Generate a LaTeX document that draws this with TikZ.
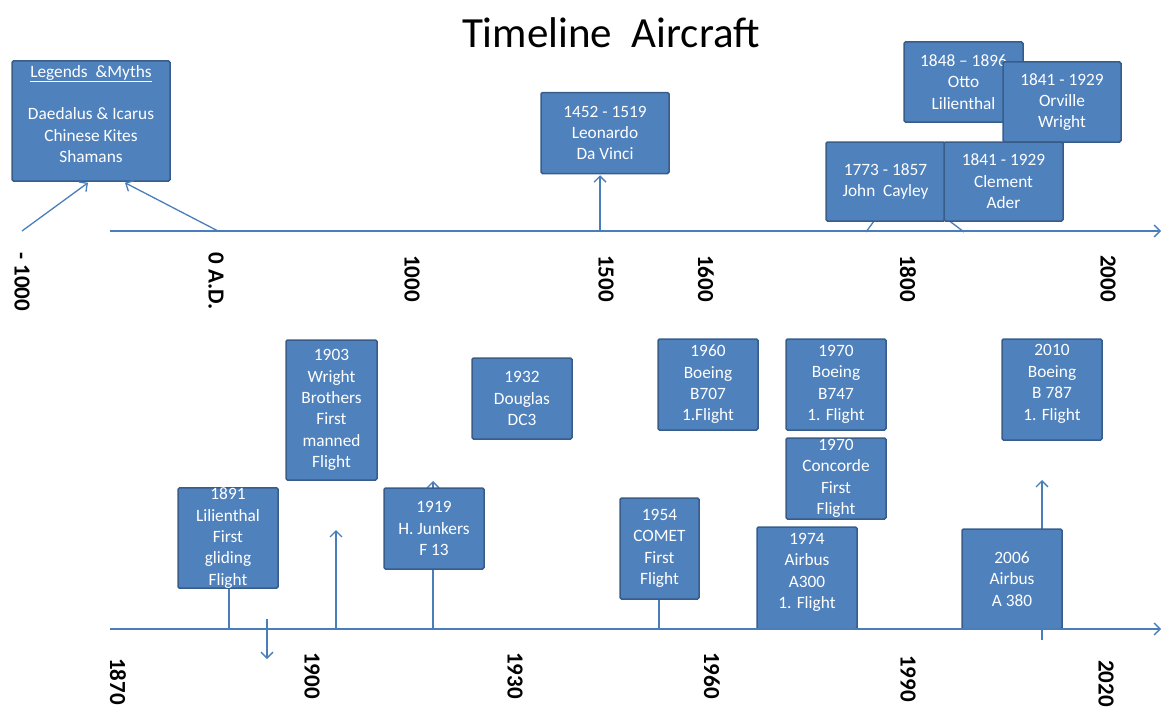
\documentclass[tikz,border=0pt]{standalone}
\usepackage{fontspec}
\setmainfont{Carlito}
\usetikzlibrary{arrows.meta,backgrounds}
\definecolor{boxfill}{HTML}{4F81BD}
\definecolor{boxline}{HTML}{385D8A}
\definecolor{connc}{HTML}{4A7EBB}
\begin{document}
\begin{tikzpicture}[x=1pt,y=-1pt,
  >={Straight Barb[length=6pt,width=12pt]},
  evbox/.style={draw=boxline, line width=1.5pt, fill=boxfill, text=white,
    rounded corners=1.5pt, align=center, inner sep=0pt,
    font=\fontsize{17.3}{21.4}\selectfont},
  connector/.style={draw=connc, line width=1.3pt},
  yearlbl/.style={font=\fontsize{23}{23}\selectfont\bfseries, rotate=-90,
    anchor=west, inner sep=0pt, text=black},
  titlestyle/.style={font=\fontsize{43}{43}\selectfont, inner sep=0pt, text=black}]
\useasboundingbox (0,0) rectangle (1161,709);

\node[titlestyle] (title) at (611,33) {Timeline\ \ Aircraft};

% ---------- top timeline ----------
\node[evbox, minimum width=158, minimum height=120] (legends) at (91,121)
  {\underline{Legends\ \ \&Myths}\\ \strut\\Daedalus \& Icarus\\Chinese Kites\\Shamans\\[-13.5pt] \strut};
\node[evbox, minimum width=128, minimum height=81] (leonardo) at (605,133)
  {1452 - 1519\\Leonardo\\Da Vinci};
\node[evbox, minimum width=119, minimum height=80] (otto) at (963.5,82)
  {1848 – 1896\\Otto\\Lilienthal};
\node[evbox, minimum width=118, minimum height=80] (orville) at (1062,102)
  {1841 - 1929\\Orville\\Wright};
\node[evbox, minimum width=119, minimum height=79] (cayley) at (885.5,181.5)
  {1773 - 1857\\John\ \ Cayley};
\node[evbox, minimum width=119, minimum height=79] (ader) at (1003.5,181.5)
  {1841 - 1929\\Clement\\Ader};

\coordinate (tstart) at (110,231);
\coordinate (tend) at (1161,231);
\coordinate (tm1000) at (22,231);
\coordinate (tad0) at (218,231);
\coordinate (t1500) at (600,231);
\coordinate (t1780) at (866,232);
\coordinate (t1820) at (964,232);

\draw[connector,->] (tstart) -- (tend);
\draw[connector,->] (tm1000) -- ([xshift=-3pt,yshift=-1pt]legends.south);
\draw[connector,->] (tad0) -- ([xshift=34pt,yshift=-1pt]legends.south);
\draw[connector,->] (t1500) -- ([xshift=-5pt,yshift=-1pt]leonardo.south);
\begin{scope}[on background layer]
  \draw[connector] (t1780) -- ([xshift=-12pt]cayley.south);
  \draw[connector] (t1820) -- ([xshift=-53pt]ader.south);
\end{scope}

\node[yearlbl] (ym1000) at (22,252) {- 1000};
\node[yearlbl] (yad0) at (216,252) {0 A.D.};
\node[yearlbl] (y1000) at (412,255) {1000};
\node[yearlbl] (y1500) at (606,255) {1500};
\node[yearlbl] (y1600) at (706,255) {1600};
\node[yearlbl] (y1800) at (908,255) {1800};
\node[yearlbl] (y2000) at (1108,255) {2000};

% ---------- bottom timeline ----------
\node[evbox, minimum width=100, minimum height=100] (lil) at (228,538)
  {1891\\Lilienthal\\First\\gliding\\Flight};
\node[evbox, minimum width=91, minimum height=140] (wright) at (331.5,410)
  {1903\\Wright\\Brothers\\First\\manned\\Flight};
\node[evbox, minimum width=100, minimum height=81] (junkers) at (434,528.5)
  {1919\\H. Junkers\\F 13};
\node[evbox, minimum width=100, minimum height=81] (douglas) at (522,398.5)
  {1932\\Douglas\\DC3};
\node[evbox, minimum width=79, minimum height=101] (comet) at (659.5,548.5)
  {1954\\COMET\\First\\Flight};
\node[evbox, minimum width=100, minimum height=91] (b707) at (708,384.5)
  {1960\\Boeing\\B707\\1.Flight};
\node[evbox, minimum width=100, minimum height=91] (b747) at (836,384.5)
  {1970\\Boeing\\B747\\1. Flight};
\node[evbox, minimum width=100, minimum height=81] (concorde) at (836,478.5)
  {1970\\Concorde\\First\\Flight};
\node[evbox, minimum width=100, minimum height=102] (a300) at (807,578)
  {1974\\Airbus\\A300\\1. Flight\\[-13.5pt] \strut};
\node[evbox, minimum width=100, minimum height=100] (a380) at (1012,579)
  {2006\\Airbus\\A 380};
\node[evbox, minimum width=100, minimum height=101] (b787) at (1052,389.5)
  {2010\\Boeing\\B 787\\1. Flight\\[-13.5pt] \strut};

\coordinate (bstart) at (110,629);
\coordinate (bend) at (1161,629);
\coordinate (b1891) at (229,629);
\coordinate (bd1) at (267,619);
\coordinate (bd2) at (267,659);
\coordinate (b1903) at (336,629);
\coordinate (w1903) at (336,530);
\coordinate (b1919) at (433,629);
\coordinate (j1919) at (433,481);
\coordinate (b1954) at (659,629);
\coordinate (b2010) at (1042,640);
\coordinate (k2010) at (1042,480);

\draw[connector,->] (bstart) -- (bend);
\draw[connector] (b1891) -- (lil.south -| b1891);
\draw[connector,->] (bd1) -- (bd2);
\draw[connector,->] (b1903) -- (w1903);
\draw[connector] (b1954) -- (comet.south -| b1954);
\begin{scope}[on background layer]
  \draw[connector,->] (b1919) -- (j1919);
  \draw[connector,->] (b2010) -- (k2010);
\end{scope}

\node[yearlbl] (y1870) at (118,658) {1870};
\node[yearlbl] (y1900) at (312,652) {1900};
\node[yearlbl] (y1930) at (515,652) {1930};
\node[yearlbl] (y1960) at (712,652) {1960};
\node[yearlbl] (y1990) at (908,655) {1990};
\node[yearlbl] (y2020) at (1106,660) {2020};
\end{tikzpicture}
\end{document}
